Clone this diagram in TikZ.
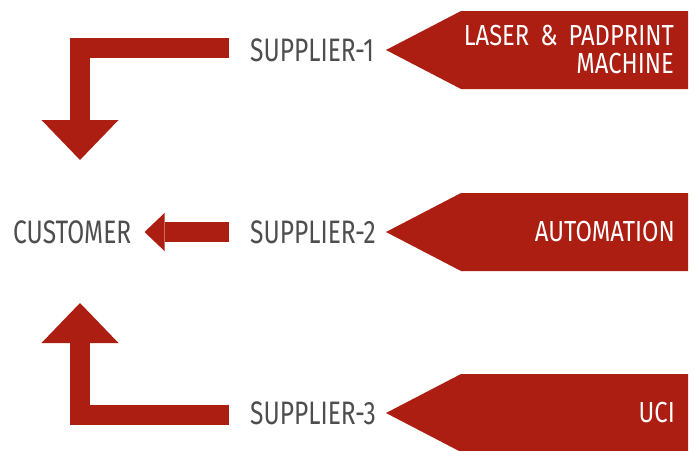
\documentclass[tikz,border=0pt]{standalone}
\usepackage{fontspec}
\setmainfont{Fira Sans}[FakeStretch=0.755]
\newfontfamily\tagfont{Fira Sans}[FakeStretch=0.82]
\usetikzlibrary{arrows.meta}
\definecolor{brick}{RGB}{172,30,18}
\definecolor{labelgray}{RGB}{78,78,78}

\begin{document}
\begin{tikzpicture}[x=1pt, y=-1pt,
  supplier/.style={anchor=west, inner sep=0pt, text=labelgray, font=\fontsize{32.5}{34}\selectfont},
  source/.style={anchor=east, inner sep=0pt, text=white, align=right, font=\tagfont\fontsize{29}{28}\selectfont},
  flow/.style={draw=brick, line width=20pt}]
  \useasboundingbox (0,0) rectangle (695,450);

  % source tags
  \foreach \y in {50,232,413}
    \fill[brick] (386,\y) -- ++(75,-39) -- ++(227,0) -- ++(0,78) -- ++(-227,0) -- cycle;

  \draw
   (250,50) node[supplier](s1) {SUPPLIER-1}
   (250,232) node[supplier](s2) {SUPPLIER-2}
   (250,413) node[supplier](s3) {SUPPLIER-3}
   (13,232) node[supplier](cust) {CUSTOMER};

  \node[source] (laser) at (674,50) {\makebox[210pt][s]{LASER \& PADPRINT}\\MACHINE};
  \node[source] (auto) at (675,232) {AUTOMATION};
  \node[source] (uci) at (675,413) {UCI};

  %supplier to customer
  \coordinate (t1) at (80,160);
  \coordinate (t3) at (80,303);
  \draw[flow, -{Triangle[width=77pt, length=40pt, line width=0pt]}]
   ([xshift=-21pt, yshift=2pt]s1.west) -| (t1);
  \draw[flow, -{Triangle[width=38pt, length=20pt, line width=0pt]}]
   ([xshift=-21pt]s2.west) -- ([xshift=13pt]cust.east);
  \draw[flow, -{Triangle[width=77pt, length=40pt, line width=0pt]}]
   ([xshift=-21pt, yshift=-2pt]s3.west) -| (t3);
\end{tikzpicture}
\end{document}
